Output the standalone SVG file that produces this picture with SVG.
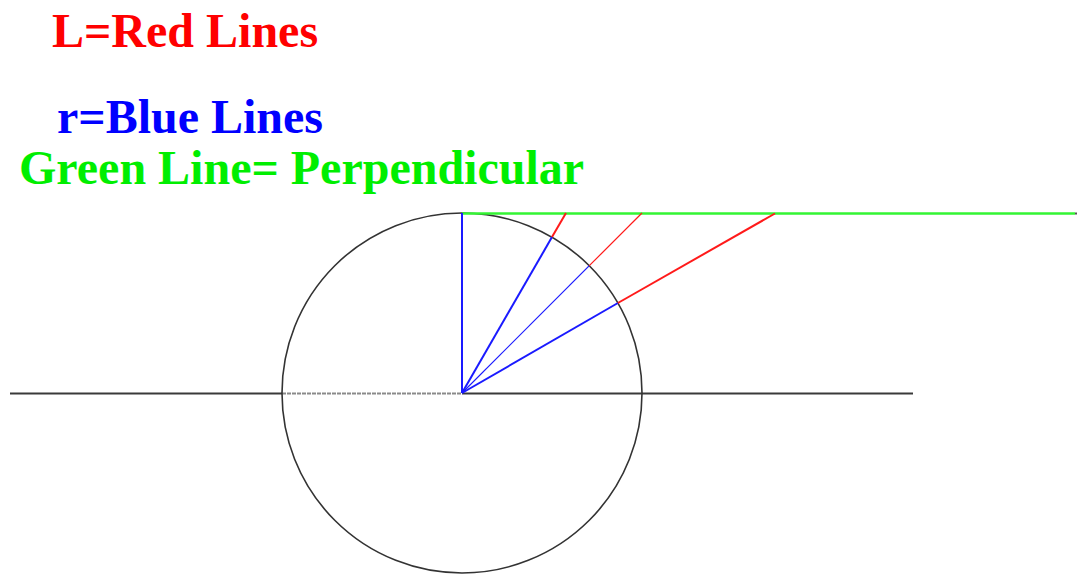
<svg xmlns="http://www.w3.org/2000/svg" width="1078" height="574" viewBox="0 0 1078 574">
<style>
.t{font-family:"Liberation Serif","Times New Roman",serif;font-weight:bold;font-size:48px}
.blk{stroke:#3a3a3a;stroke-width:2;fill:none}
.red{stroke:#ff1a1a;stroke-width:2;fill:none}
.blue{stroke:#1a1aff;stroke-width:2;fill:none}
.thin{stroke-width:1.2}
.grn{stroke:#33f533;stroke-width:2.4;fill:none}
</style>
<rect width="1078" height="574" fill="#ffffff"/>
<g id="labels">
<text class="t" x="52" y="47" fill="#ff0000">L=Red Lines</text>
<text class="t" x="57" y="133" fill="#0000ff">r=Blue Lines</text>
<text class="t" x="19" y="184" fill="#00ee00">Green Line= Perpendicular</text>
</g>
<g id="axis">
<line class="blk" x1="10" y1="393.5" x2="282" y2="393.5"/>
<line x1="282" y1="393.5" x2="462" y2="393.5" stroke="#8a8a8a" stroke-width="2" stroke-dasharray="4,1"/>
<line class="blk" x1="462" y1="393.5" x2="913" y2="393.5"/>
</g>
<g id="circle">
<circle cx="462" cy="393" r="180" stroke="#333" stroke-width="1.6" fill="none"/>
</g>
<g id="connectors">
<line class="grn" x1="462" y1="213.5" x2="1075" y2="213.5"/>
<rect x="1075" y="212.5" width="2" height="2" fill="#555"/>
<line class="blue" x1="462" y1="393" x2="462" y2="213"/>
<line class="blue" x1="462" y1="393" x2="552" y2="237.1"/>
<line class="red" x1="552" y1="237.1" x2="566" y2="213"/>
<line class="blue thin" x1="462" y1="393" x2="589.3" y2="265.7"/>
<line class="red thin" x1="589.3" y1="265.7" x2="642" y2="213"/>
<line class="blue" x1="462" y1="393" x2="617.9" y2="303"/>
<line class="red" x1="617.9" y1="303" x2="775" y2="213.5"/>
</g>
</svg>
